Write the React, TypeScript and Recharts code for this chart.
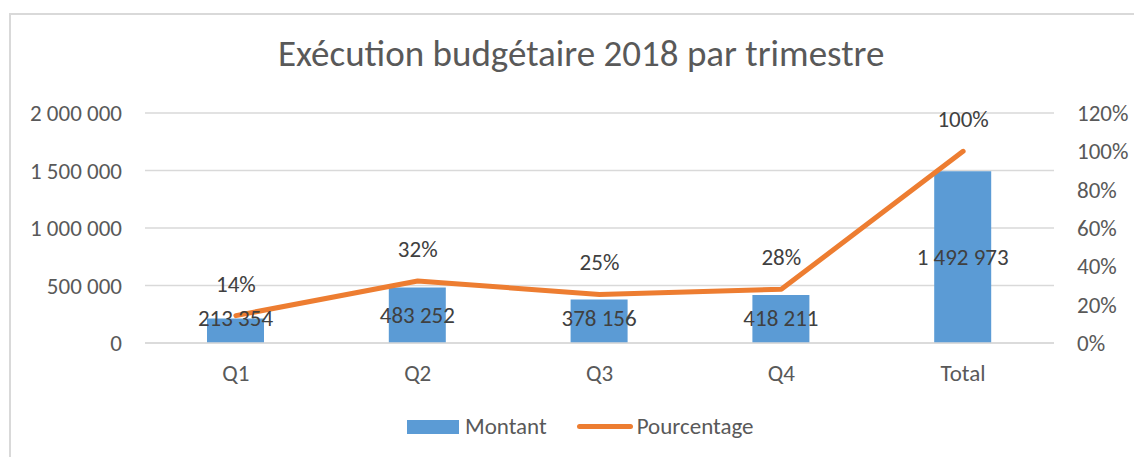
import React from 'react';
import {
  ComposedChart,
  Bar,
  Line,
  XAxis,
  YAxis,
  CartesianGrid,
  Legend,
  LabelList,
} from 'recharts';

const categories = ['Q1', 'Q2', 'Q3', 'Q4', 'Total'];
const montants = [213354, 483252, 378156, 418211, 1492973];
const pourcentages = [0.1429, 0.3237, 0.2533, 0.2801, 1];
const leftTicks = [0, 500000, 1000000, 1500000, 2000000];
const rightTicks = [0, 0.2, 0.4, 0.6, 0.8, 1, 1.2];

const data = categories.map((name, i) => ({
  name,
  montant: montants[i],
  pct: pourcentages[i],
}));

const FONT = 'Carlito, Calibri, Lato, sans-serif';
const FS = 23;
const AXIS_COLOR = '#595959';
const LABEL_COLOR = '#404040';
const GRID = '#D9D9D9';
const BLUE = '#5B9BD5';
const ORANGE = '#ED7D31';

// french style thousands: "1 492 973"
const fmtNum = (n: number) => String(n).replace(/\B(?=(\d{3})+(?!\d))/g, ' ');
const fmtPct = (v: number) => Math.round(v * 100) + '%';

const BarLabel = (props: any) => {
  const { x, y, width, height, value } = props;
  const cx = x + width / 2;
  // excel keeps the label inside the plot for short bars
  const cy = Math.min(y + height / 2, y + height - 25);
  return (
    <text x={cx} y={cy} textAnchor="middle" dominantBaseline="central" fill={LABEL_COLOR} fontSize={FS} fontFamily={FONT}>
      {fmtNum(value)}
    </text>
  );
};

const LineLabel = (props: any) => {
  const { x, y, value } = props;
  return (
    <text x={x} y={y - 32} textAnchor="middle" dominantBaseline="central" fill={LABEL_COLOR} fontSize={FS} fontFamily={FONT}>
      {fmtPct(value)}
    </text>
  );
};

const LegendContent = () => (
  <div style={{ display: 'flex', alignItems: 'center', fontFamily: FONT, fontSize: FS, color: AXIS_COLOR, lineHeight: 1 }}>
    <span style={{ display: 'inline-block', width: 52, height: 14, background: BLUE }} />
    <span style={{ marginLeft: 6 }}>Montant</span>
    <span style={{ display: 'inline-block', width: 56, height: 5, borderRadius: 3, background: ORANGE, marginLeft: 30 }} />
    <span style={{ marginLeft: 4 }}>Pourcentage</span>
  </div>
);

export default function App() {
  return (
    <div style={{ position: 'absolute', top: 0, left: 0, width: 1134, height: 457, overflow: 'hidden', background: '#fff' }}>
      <div
        style={{
          position: 'absolute',
          left: 9,
          top: 13,
          width: 1140,
          height: 460,
          borderTop: `2px solid ${GRID}`,
          borderLeft: `2px solid ${GRID}`,
        }}
      />
      <div
        style={{
          position: 'absolute',
          top: 35,
          left: 278,
          width: 600,
          textAlign: 'center',
          whiteSpace: 'nowrap',
          fontFamily: FONT,
          fontSize: 37,
          lineHeight: 1,
          color: AXIS_COLOR,
        }}
      >
        Exécution budgétaire 2018 par trimestre
      </div>
      <div style={{ position: 'absolute', top: 0, left: 0 }}>
        <ComposedChart width={1134} height={457} data={data} margin={{ top: 113, right: 0, bottom: 84, left: 0 }}>
          <CartesianGrid vertical={false} stroke={GRID} strokeWidth={1.5} yAxisId="left" />
          <XAxis
            dataKey="name"
            height={30}
            axisLine={{ stroke: GRID, strokeWidth: 1.5 }}
            tickLine={false}
            tickMargin={16}
            tick={{ fill: AXIS_COLOR, fontSize: FS, fontFamily: FONT }}
          />
          <YAxis
            yAxisId="left"
            width={145}
            domain={[0, 2000000]}
            ticks={leftTicks}
            axisLine={false}
            tickLine={false}
            tickMargin={17}
            tickFormatter={fmtNum}
            tick={{ fill: AXIS_COLOR, fontSize: FS, fontFamily: FONT }}
          />
          <YAxis
            yAxisId="right"
            orientation="right"
            width={80}
            domain={[0, 1.2]}
            ticks={rightTicks}
            axisLine={false}
            tickLine={false}
            tickMargin={17}
            tickFormatter={fmtPct}
            tick={{ fill: AXIS_COLOR, fontSize: FS, fontFamily: FONT, textAnchor: 'start' }}
          />
          <Bar yAxisId="left" dataKey="montant" name="Montant" fill={BLUE} barSize={57} isAnimationActive={false}>
            <LabelList dataKey="montant" content={BarLabel} />
          </Bar>
          <Line
            yAxisId="right"
            dataKey="pct"
            name="Pourcentage"
            type="linear"
            stroke={ORANGE}
            strokeWidth={5}
            strokeLinecap="round"
            strokeLinejoin="round"
            dot={false}
            activeDot={false}
            isAnimationActive={false}
          >
            <LabelList dataKey="pct" content={LineLabel} />
          </Line>
          <Legend
            layout="vertical"
            align="center"
            verticalAlign="middle"
            content={LegendContent}
            wrapperStyle={{ position: 'absolute', top: 415, left: 407, width: 420, height: 24 }}
          />
        </ComposedChart>
      </div>
    </div>
  );
}
